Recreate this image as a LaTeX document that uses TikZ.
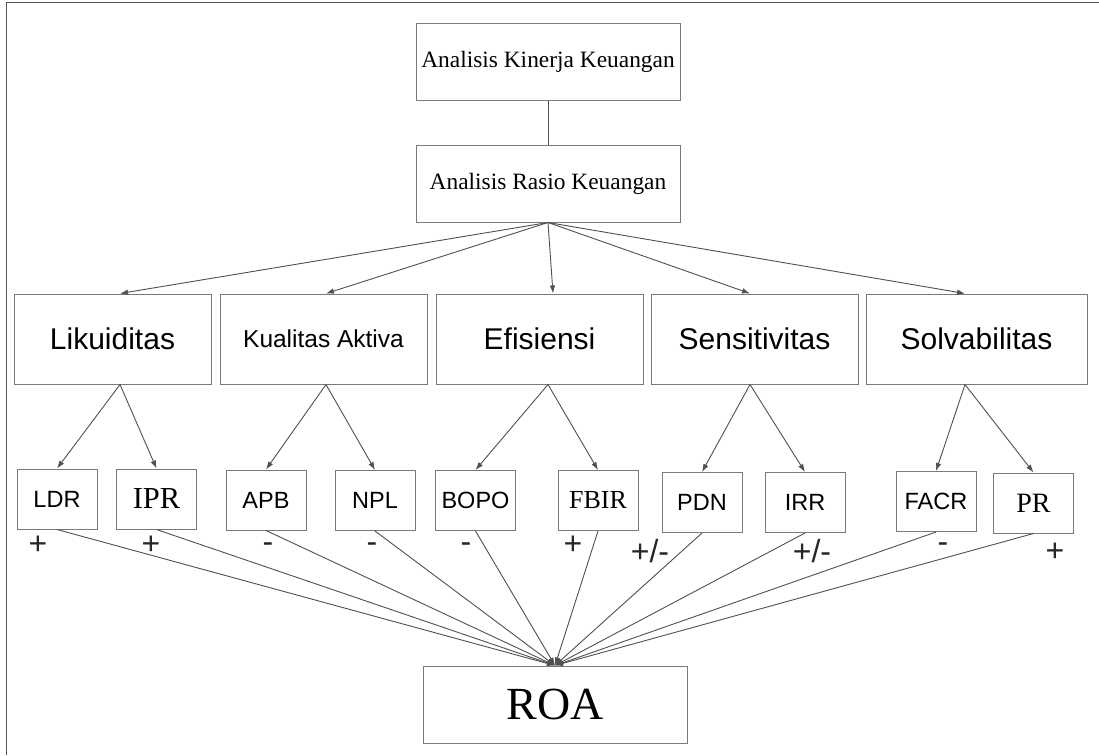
\documentclass[tikz,border=0pt]{standalone}
\usepackage{fontspec}
\setmainfont{Liberation Serif}
\setsansfont{Liberation Sans}
\usetikzlibrary{arrows.meta}
\definecolor{boxgray}{HTML}{7A7A7A}
\definecolor{linegray}{HTML}{505050}
\definecolor{framegray}{HTML}{555555}
\begin{document}
\begin{tikzpicture}[x=1pt,y=-1pt,
  box/.style={draw=boxgray, line width=1pt, inner sep=0pt, align=center, text=black},
  bigbox/.style={box, minimum width=264pt, minimum height=77pt, font=\fontsize{23.4}{28}\selectfont},
  catbox/.style={box, minimum height=90pt, font=\sffamily\fontsize{30}{36}\selectfont},
  child/.style={box, minimum width=80pt, minimum height=60pt, font=\sffamily\fontsize{23.5}{28}\selectfont},
  childserif/.style={child, font=\rmfamily\fontsize{28}{32}\selectfont},
  sign/.style={inner sep=0pt, font=\sffamily\fontsize{32}{36}\selectfont, text=black!85},
  arr/.style={draw=linegray, line width=0.9pt, -{Latex[length=8pt,width=5.5pt]}},
  plain/.style={draw=linegray, line width=0.9pt},
]
\useasboundingbox (0,0) rectangle (1099,755);
\fill[white] (0,0) rectangle (1099,755);
\draw[framegray, line width=1.4pt] (6.5,755) -- (6.5,2.3) -- (1099,2.3);

% top boxes
\node[bigbox] (kin) at (548,61.5) {Analisis Kinerja Keuangan};
\node[bigbox] (ras) at (548,183.5) {Analisis Rasio Keuangan};
\draw[plain] (kin) -- (ras);

% category boxes
\node[catbox, minimum width=197pt] (lik) at (112.5,339) {Likuiditas};
\node[catbox, minimum width=207pt, font=\sffamily\fontsize{24.5}{28}\selectfont] (kua) at (323.5,339) {Kualitas Aktiva};
\node[catbox, minimum width=207pt] (efi) at (539.5,339) {Efisiensi};
\node[catbox, minimum width=207pt] (sen) at (754.5,339) {Sensitivitas};
\node[catbox, minimum width=221pt] (sol) at (976.5,339) {Solvabilitas};

\coordinate (likT) at ([xshift=7.5pt]lik.north);
\coordinate (kuaT) at ([xshift=2.5pt]kua.north);
\coordinate (efiT) at ([xshift=13.5pt]efi.north);
\coordinate (senT) at ([xshift=-4.5pt]sen.north);
\coordinate (solT) at ([xshift=-11.5pt]sol.north);
\coordinate (likB) at ([xshift=7.5pt]lik.south);
\coordinate (kuaB) at ([xshift=2.5pt]kua.south);
\coordinate (efiB) at ([xshift=8.5pt]efi.south);
\coordinate (senB) at ([xshift=-4.5pt]sen.south);
\coordinate (solB) at ([xshift=-11.5pt]sol.south);

\foreach \t in {likT,kuaT,efiT,senT,solT}
  \draw[arr] (ras.south) -- (\t);

% child boxes
\node[child] (ldr) at (57,499) {LDR};
\node[childserif, font=\rmfamily\fontsize{30.5}{34}\selectfont] (ipr) at (156.5,499) {IPR};
\node[child] (apb) at (266,500) {APB};
\node[child] (npl) at (375,500.5) {NPL};
\node[child] (bopo) at (475.5,500.5) {BOPO};
\node[childserif, font=\rmfamily\fontsize{26}{30}\selectfont] (fbir) at (598,500.5) {FBIR};
\node[child] (pdn) at (702,502.5) {PDN};
\node[child] (irr) at (805,502.5) {IRR};
\node[child] (facr) at (936,501.5) {FACR};
\node[childserif] (pr) at (1033.5,503) {PR};

\draw[arr] (likB) -- (ldr.north);
\draw[arr] (likB) -- (ipr.north);
\draw[arr] (kuaB) -- (apb.north);
\draw[arr] (kuaB) -- (npl.north);
\draw[arr] (efiB) -- (bopo.north);
\draw[arr] (efiB) -- (fbir.north);
\draw[arr] (senB) -- (pdn.north);
\draw[arr] (senB) -- (irr.north);
\draw[arr] (solB) -- (facr.north);
\draw[arr] (solB) -- (pr.north);

% signs
\node[sign] (s1) at (38,545) {+};
\node[sign] (s2) at (151,545) {+};
\node[sign] (s3) at (268,548) {-};
\node[sign] (s4) at (372,548) {-};
\node[sign] (s5) at (466,548) {-};
\node[sign] (s6) at (573,545) {+};
\node[sign] (s7) at (650,551) {+/-};
\node[sign] (s8) at (812,551) {+/-};
\node[sign] (s9) at (943,548) {-};
\node[sign] (s10) at (1055,552) {+};

% ROA
\node[bigbox, font=\fontsize{46}{52}\selectfont] (roa) at (555,704.5) {ROA};
\foreach \c in {ldr,ipr,apb,npl,bopo,fbir,pdn,irr,facr,pr}
  \draw[arr] (\c.south) -- (roa.north);
\end{tikzpicture}
\end{document}
